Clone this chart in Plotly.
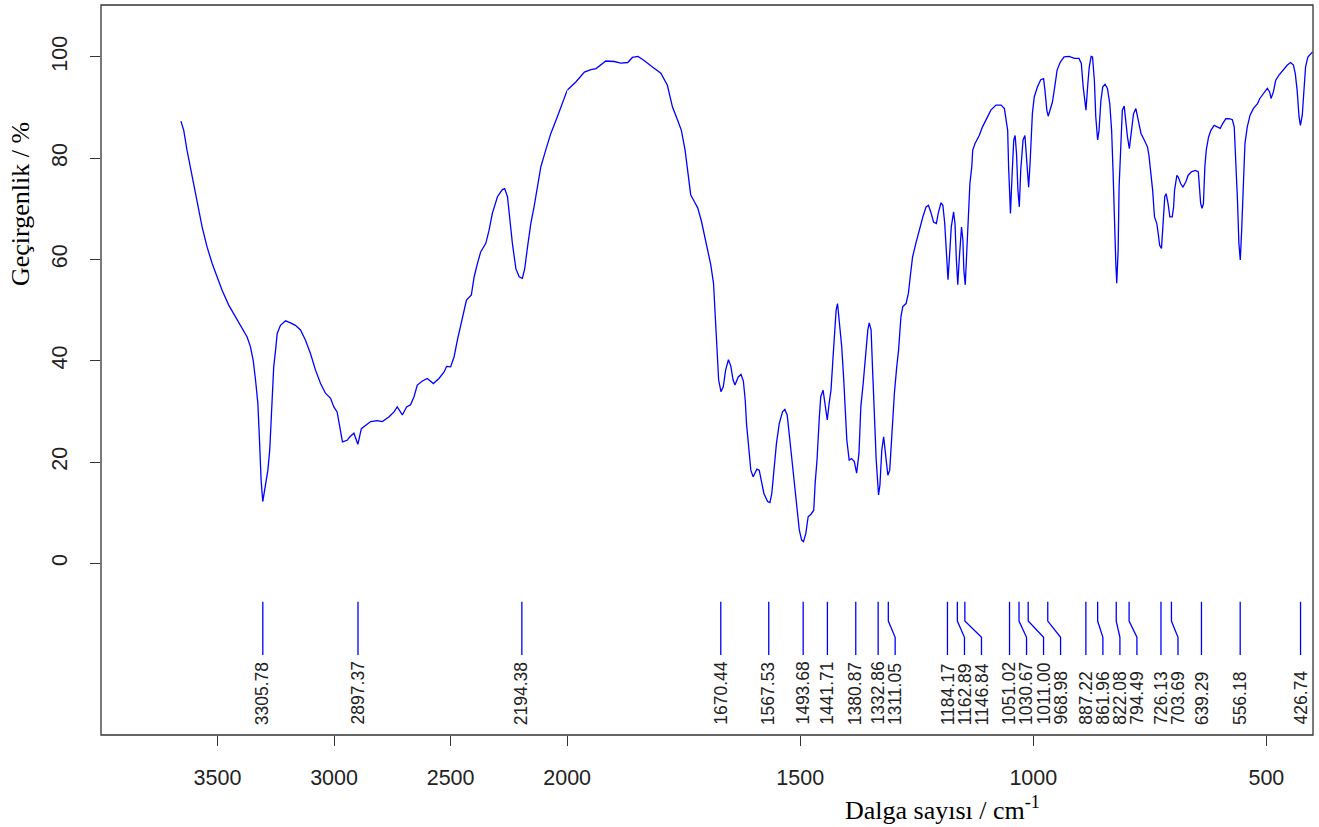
import plotly.graph_objects as go

# ---------------- data ----------------
wavenumber = [
    3657, 3645, 3631, 3609, 3588, 3566, 3545, 3523, 3502, 3480, 3452, 3423, 3395, 3373, 3359, 3347,
    3337, 3327, 3320, 3313, 3306, 3294, 3284, 3276, 3270, 3263, 3259, 3251, 3244, 3230, 3208, 3187,
    3166, 3144, 3123, 3101, 3080, 3058, 3037, 3015, 3001, 2987, 2975, 2964, 2944, 2932, 2915, 2906,
    2898, 2883, 2865, 2843, 2815, 2793, 2765, 2743, 2729, 2717, 2707, 2689, 2672, 2657, 2643, 2621,
    2600, 2574, 2550, 2528, 2517, 2500, 2485, 2471, 2450, 2432, 2411, 2399, 2385, 2371, 2349, 2335,
    2321, 2299, 2278, 2268, 2256, 2245, 2235, 2220, 2206, 2192, 2182, 2170, 2156, 2142, 2127, 2113,
    2092, 2070, 2042, 2020, 2000,
    1981, 1963, 1949, 1938, 1917, 1899, 1885, 1870, 1860, 1848, 1835, 1817, 1799, 1785, 1774, 1763,
    1755, 1747, 1741, 1735, 1727, 1720, 1712, 1706, 1699, 1692, 1686, 1683, 1680, 1677, 1675, 1670,
    1665, 1660, 1654, 1649, 1644, 1640, 1633, 1627, 1622, 1618, 1615, 1610, 1606, 1601, 1593, 1588,
    1583, 1578, 1570, 1565, 1561, 1556, 1551, 1545, 1538, 1533, 1528, 1523, 1516, 1511, 1507, 1502,
    1497, 1493, 1488, 1483, 1477, 1471, 1468, 1464, 1459, 1456, 1451, 1447, 1442, 1438, 1434, 1430,
    1427, 1423, 1420, 1416, 1411, 1407, 1404, 1400, 1395, 1390, 1384, 1379, 1374, 1370, 1365, 1360,
    1355, 1352, 1348, 1345, 1341, 1337, 1332, 1329, 1325, 1321, 1318, 1312, 1308, 1303, 1298, 1293,
    1289, 1284, 1280, 1273, 1268, 1264, 1259, 1252, 1245, 1237, 1230, 1225, 1220, 1214, 1208, 1204,
    1198, 1194, 1190, 1186, 1183, 1179, 1176, 1171, 1168, 1165, 1162, 1159, 1154, 1151, 1149, 1146,
    1143, 1140, 1136, 1132, 1130, 1125, 1116, 1109, 1099, 1091, 1080, 1069, 1062, 1059, 1055, 1053,
    1051, 1049, 1046, 1042, 1039, 1036, 1033, 1030, 1027, 1022, 1018, 1015, 1012, 1010, 1007, 1004,
    1002, 998, 991, 984, 978, 975, 971, 968, 964, 959, 954, 949, 942, 934, 923, 912,
    902, 897, 893, 889, 887, 883, 880, 876, 873, 869, 866, 862, 859, 855, 851, 846,
    841, 836, 832, 829, 826, 823, 821, 818, 816, 812, 809, 805, 802, 798, 794, 789,
    785, 780, 775, 769, 762, 755, 752, 748, 744, 740, 735, 732, 729, 725, 722, 718,
    715, 711, 707, 702, 699, 697, 692, 689, 684, 679, 673, 668, 661, 652, 646, 643,
    641, 638, 635, 632, 629, 624, 619, 612, 605, 599, 594, 587, 580, 573, 569, 566,
    562, 559, 556, 553, 549, 546, 541, 535, 528, 519, 514, 505, 498, 493, 490, 485,
    480, 473, 464, 455, 448, 442, 438, 434, 430, 427, 423, 420, 416, 411, 405, 401,
]
transmittance = [
    87.3, 85.5, 81.6, 76.3, 71.7, 66.4, 62.5, 59.2, 56.6, 53.9, 51.0, 48.7, 46.7, 44.7, 42.8, 40.1,
    36.2, 31.6, 24.3, 16.4, 12.2, 15.8, 18.4, 22.4, 28.3, 34.2, 38.8, 42.1, 45.4, 47.0, 47.9, 47.5,
    47.0, 46.1, 44.1, 41.4, 38.2, 35.5, 33.6, 32.6, 30.9, 29.9, 27.0, 24.0, 24.3, 25.0, 25.7, 24.3,
    23.5, 26.6, 27.3, 28.0, 28.2, 28.0, 28.9, 29.9, 30.9, 29.9, 29.3, 30.9, 31.3, 32.9, 35.2, 36.0,
    36.5, 35.5, 36.5, 37.8, 38.9, 38.8, 40.8, 44.1, 48.7, 52.0, 53.0, 56.6, 59.2, 61.5, 63.2, 65.8,
    69.1, 72.4, 73.8, 74.0, 72.4, 67.1, 63.2, 58.2, 56.6, 56.3, 58.2, 62.5, 67.1, 70.4, 74.3, 78.3,
    81.6, 84.9, 88.2, 90.8, 93.4,
    95.1, 97.0, 97.5, 97.7, 99.2, 99.1, 98.8, 98.9, 99.9, 100.1, 99.3, 98.0, 96.8, 94.4, 90.1, 87.5,
    85.5, 81.6, 77.0, 72.8, 71.4, 70.2, 67.6, 65.1, 62.0, 59.0, 55.3, 50.5, 45.2, 40.1, 36.2, 33.9,
    34.9, 38.2, 40.2, 39.0, 36.2, 35.2, 36.8, 37.3, 36.0, 32.2, 27.3, 22.4, 18.4, 17.1, 18.6, 18.4,
    15.8, 13.8, 12.2, 12.0, 13.8, 18.4, 23.7, 27.6, 29.9, 30.4, 29.3, 25.0, 19.1, 15.1, 10.5, 6.6,
    4.6, 4.3, 5.9, 9.2, 9.7, 10.5, 15.8, 20.4, 28.9, 32.9, 34.2, 31.6, 28.3, 31.6, 34.2, 40.1,
    45.4, 50.0, 51.3, 48.0, 42.8, 36.8, 30.9, 24.3, 20.4, 20.7, 20.1, 17.8, 21.7, 30.9, 35.5, 40.8,
    46.1, 47.5, 46.1, 38.8, 28.9, 20.4, 13.5, 15.5, 22.4, 25.0, 22.4, 17.4, 18.4, 27.0, 33.6, 38.8,
    42.1, 48.7, 50.7, 51.3, 53.3, 56.6, 60.5, 63.2, 65.8, 68.4, 70.4, 70.7, 69.4, 67.4, 67.1, 69.1,
    71.2, 70.7, 67.1, 60.5, 56.0, 61.8, 66.4, 69.4, 67.1, 59.9, 55.0, 59.9, 66.4, 63.8, 57.9, 55.0,
    60.5, 68.4, 75.0, 78.3, 81.6, 82.9, 84.5, 86.2, 88.2, 89.5, 90.5, 90.5, 89.8, 88.2, 85.5, 78.3,
    71.4, 69.1, 75.7, 83.6, 84.5, 80.9, 73.7, 70.4, 77.6, 83.6, 84.5, 80.9, 76.3, 74.3, 78.9, 84.2,
    88.8, 92.1, 94.1, 95.5, 95.7, 93.4, 89.5, 88.3, 89.5, 91.1, 94.1, 97.4, 99.0, 100.0, 100.1, 99.7,
    99.7, 98.7, 94.1, 90.1, 89.5, 94.7, 98.0, 100.1, 100.0, 95.4, 88.2, 83.6, 85.5, 91.4, 94.1, 94.6,
    93.8, 90.8, 85.5, 77.6, 65.8, 59.2, 55.3, 61.8, 74.3, 84.2, 89.5, 90.3, 87.5, 84.2, 81.9, 85.5,
    88.8, 89.8, 87.5, 84.9, 83.6, 82.2, 80.6, 77.6, 73.7, 68.4, 67.1, 65.1, 62.8, 62.2, 65.8, 72.4,
    73.0, 71.1, 68.4, 68.4, 70.4, 73.7, 76.6, 76.3, 75.0, 74.3, 75.3, 76.6, 77.3, 77.6, 77.3, 74.3,
    71.1, 70.1, 71.1, 78.3, 81.6, 84.2, 85.5, 86.5, 86.2, 85.9, 86.8, 87.8, 87.8, 87.6, 86.2, 80.3,
    71.7, 63.2, 59.9, 65.8, 75.7, 82.9, 86.2, 88.5, 89.8, 90.8, 91.8, 92.8, 93.8, 93.1, 91.8, 93.1,
    95.4, 96.4, 97.5, 98.4, 98.9, 98.4, 96.7, 93.4, 88.2, 86.5, 88.5, 92.8, 98.0, 100.0, 100.7, 101.0,
]
peaks = [3305.78, 2897.37, 2194.38, 1670.44, 1567.53, 1493.68, 1441.71, 1380.87, 1332.86,
         1311.05, 1184.17, 1162.89, 1146.84, 1051.02, 1030.67, 1011.00, 968.98, 887.22,
         861.96, 822.08, 794.49, 726.13, 703.69, 639.29, 556.18, 426.74]
x_ticks_upper = [3500, 3000, 2500]
x_ticks_lower = [2000, 1500, 1000, 500]
y_ticks = [0, 20, 40, 60, 80, 100]

x_title = "Dalga sayısı / cm<sup>-1</sup>"
y_title = "Geçirgenlik / %"

# ---------------- layout constants ----------------
SPLIT = 2000          # scale change (upper part drawn at half scale)
X_MAX, X_MIN = 4000, 400
Y_MIN, Y_MAX = -33.9, 110.26
upper_span = (X_MAX - SPLIT) / 2.0
lower_span = SPLIT - X_MIN
f_split = upper_span / (upper_span + lower_span)

BLUE = "#0000FF"
FRAME = "#333333"
TXT = "#222222"
SANS = "Liberation Sans, Arial, sans-serif"
SERIF = "Liberation Serif, Times New Roman, serif"

fig = go.Figure()

# spectrum (split at the scale change)
up_x = [w for w in wavenumber if w >= SPLIT]
up_y = [t for w, t in zip(wavenumber, transmittance) if w >= SPLIT]
lo_x = [w for w in wavenumber if w <= SPLIT]
lo_y = [t for w, t in zip(wavenumber, transmittance) if w <= SPLIT]
fig.add_trace(go.Scatter(x=up_x, y=up_y, mode="lines", line=dict(color=BLUE, width=1.3),
                         xaxis="x", yaxis="y", hoverinfo="skip"))
fig.add_trace(go.Scatter(x=lo_x, y=lo_y, mode="lines", line=dict(color=BLUE, width=1.3),
                         xaxis="x2", yaxis="y", hoverinfo="skip"))


# peak markers with simple label repel (in equivalent lower-scale units)
def to_u(w):
    return w if w <= SPLIT else SPLIT + (w - SPLIT) / 2.0


def from_u(u):
    return u if u <= SPLIT else SPLIT + (u - SPLIT) * 2.0


MIN_GAP = 36.5
label_pos = []
prev = None
for p in peaks:
    u = to_u(p)
    if prev is not None:
        u = min(u, prev - MIN_GAP)
    label_pos.append(from_u(u))
    prev = u

Y_TOP, Y_K1, Y_K2, Y_BOT, Y_LAB = -7.6, -11.4, -14.6, -18.1, -32.3
seg = {"x": ([], []), "x2": ([], [])}
annotations = []
for p, lp in zip(peaks, label_pos):
    ax = "x" if p > SPLIT else "x2"
    xs, ys = seg[ax]
    xs += [p, p, lp, lp, None]
    ys += [Y_TOP, Y_K1, Y_K2, Y_BOT, None]
    annotations.append(dict(x=lp, y=Y_LAB, xref=ax, yref="y", text=f"{p:.2f}",
                            textangle=-90, showarrow=False, xanchor="center", yanchor="bottom",
                            font=dict(family=SANS, size=17.5, color=TXT)))
for ax, (xs, ys) in seg.items():
    fig.add_trace(go.Scatter(x=xs, y=ys, mode="lines", line=dict(color=BLUE, width=1.3),
                             xaxis=ax, yaxis="y", hoverinfo="skip"))

annotations.append(dict(x=0.694, y=-0.1, xref="paper", yref="paper", text=x_title,
                        showarrow=False, xanchor="center", yanchor="middle",
                        font=dict(family=SERIF, size=26, color="#000000")))
annotations.append(dict(x=-0.067, y=0.727, xref="paper", yref="paper", text=y_title,
                        textangle=-90, showarrow=False, xanchor="center", yanchor="middle",
                        font=dict(family=SERIF, size=26, color="#000000")))

axis_common = dict(ticks="outside", ticklen=10, tickwidth=1.3, tickcolor=FRAME,
                   showgrid=False, zeroline=False, showline=False,
                   tickfont=dict(family=SANS, size=21.5, color=TXT))

fig.update_layout(
    width=1319, height=827,
    margin=dict(l=101, r=6, t=5, b=92),
    paper_bgcolor="white", plot_bgcolor="white",
    showlegend=False,
    xaxis=dict(domain=[0, f_split], range=[X_MAX, SPLIT], tickvals=x_ticks_upper,
               anchor="y", ticklabelstandoff=13, **axis_common),
    xaxis2=dict(domain=[f_split, 1], range=[SPLIT, X_MIN], tickvals=x_ticks_lower,
                anchor="y", ticklabelstandoff=13, **axis_common),
    yaxis=dict(domain=[0, 1], range=[Y_MIN, Y_MAX], tickvals=y_ticks, tickangle=-90,
               anchor="x", ticklabelstandoff=14, **axis_common),
    annotations=annotations,
    shapes=[dict(type="rect", xref="paper", yref="paper", x0=0, x1=1, y0=0, y1=1,
                 line=dict(color=FRAME, width=1.3), fillcolor="rgba(0,0,0,0)", layer="above")],
)

fig.write_html("out.html")
